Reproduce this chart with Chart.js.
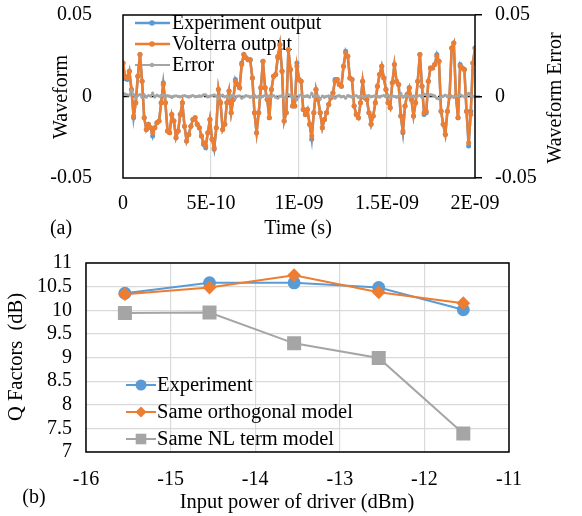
<!DOCTYPE html>
<html><head><meta charset="utf-8">
<script src="https://cdn.jsdelivr.net/npm/chart.js@4.4.1/dist/chart.umd.min.js"></script>
<style>
html,body{margin:0;padding:0;background:#fff;}
#wrap{position:relative;width:582px;height:516px;overflow:hidden;}
#c1{position:absolute;left:0;top:0;}
#c2{position:absolute;left:0;top:240px;}
</style></head><body>
<div id="wrap">
<canvas id="c1" width="582" height="240"></canvas>
<canvas id="c2" width="582" height="276"></canvas>
</div>
<script>
// ---------- Panel (a) data ----------
const WAVE_DURATION = 2e-9;
const waveTickLabels = ['0', '5E-10', '1E-09', '1.5E-09', '2E-09'];
const volterraOutput = [
 0.0206, 0.0124, 0.0114, 0.0155, 0.0043, -0.0120, -0.0039, 0.0124, 0.0257, 0.0094,
 -0.0131, -0.0202, -0.0171, -0.0192, -0.0222, -0.0192, -0.0161, -0.0151, -0.0039, 0.0073,
 -0.0039, -0.0212, -0.0222, -0.0110, -0.0151, -0.0253, -0.0212, -0.0110, -0.0039, -0.0182,
 -0.0273, -0.0233, -0.0182, -0.0141, -0.0131, -0.0171, -0.0192, -0.0243, -0.0284, -0.0304,
 -0.0222, -0.0141, -0.0263, -0.0314, -0.0192, 0.0043, -0.0039, -0.0202, -0.0171, -0.0039,
 0.0033, -0.0100, -0.0018, 0.0094, 0.0073, 0.0053, 0.0196, 0.0257, 0.0237, 0.0226,
 0.0226, 0.0114, -0.0100, -0.0222, -0.0100, 0.0053, 0.0216, 0.0053, -0.0018, -0.0131,
 0.0043, 0.0124, 0.0135, 0.0247, 0.0318, 0.0155, -0.0151, -0.0100, 0.0288,
 0.0165, -0.0059, -0.0059, 0.0186, 0.0104, 0.0094, -0.0080, -0.0110, -0.0080, -0.0171,
 -0.0243, -0.0100, 0.0043, -0.0018, -0.0100, -0.0192, -0.0141, -0.0100, -0.0049, -0.0008,
 0.0022, 0.0094, 0.0104, 0.0073, 0.0063, 0.0186, 0.0267, 0.0247, 0.0114, 0.0104,
 -0.0059, -0.0110, -0.0131, -0.0039, 0.0094, -0.0008, -0.0018, -0.0100, -0.0171, -0.0120,
 -0.0039, 0.0063, 0.0135, 0.0186, 0.0114, 0.0043, -0.0039, -0.0069, 0.0084, 0.0196,
 0.0094, 0.0073, -0.0120, -0.0212, -0.0059, 0.0012, 0.0053, -0.0018, -0.0120, -0.0039,
 0.0094, 0.0257, 0.0063, -0.0100, -0.0090, 0.0094, 0.0175, 0.0175, 0.0196, 0.0247,
 0.0216, -0.0090, -0.0171, -0.0233, -0.0090, 0.0002, 0.0298, 0.0328, 0.0002, -0.0131,
 0.0186, 0.0175, 0.0165, -0.0090, -0.0284, -0.0110, 0.0206, 0.0298
];
const experimentOutput = [
 0.0206, 0.0110, 0.0104, 0.0155, 0.0043, -0.0131, -0.0039, 0.0124, 0.0257, 0.0094,
 -0.0131, -0.0202, -0.0171, -0.0192, -0.0243, -0.0192, -0.0161, -0.0151, -0.0039, 0.0084,
 -0.0039, -0.0212, -0.0222, -0.0110, -0.0151, -0.0253, -0.0212, -0.0110, -0.0039, -0.0182,
 -0.0273, -0.0233, -0.0182, -0.0141, -0.0131, -0.0171, -0.0192, -0.0243, -0.0294, -0.0314,
 -0.0222, -0.0141, -0.0263, -0.0324, -0.0192, 0.0043, -0.0039, -0.0202, -0.0171, -0.0039,
 0.0033, -0.0100, -0.0018, 0.0104, 0.0073, 0.0053, 0.0206, 0.0257, 0.0237, 0.0226,
 0.0226, 0.0114, -0.0100, -0.0222, -0.0100, 0.0053, 0.0216, 0.0053, -0.0018, -0.0131,
 0.0043, 0.0124, 0.0135, 0.0237, 0.0318, 0.0155, -0.0151, -0.0100, 0.0288,
 0.0165, -0.0059, -0.0059, 0.0206, 0.0104, 0.0094, -0.0080, -0.0110, -0.0080, -0.0171,
 -0.0263, -0.0100, 0.0043, -0.0018, -0.0100, -0.0192, -0.0141, -0.0100, -0.0049, -0.0008,
 0.0022, 0.0104, 0.0104, 0.0073, 0.0063, 0.0186, 0.0277, 0.0247, 0.0114, 0.0104,
 -0.0059, -0.0110, -0.0131, -0.0039, 0.0094, -0.0008, -0.0018, -0.0100, -0.0171, -0.0120,
 -0.0039, 0.0063, 0.0135, 0.0186, 0.0114, 0.0043, -0.0039, -0.0069, 0.0084, 0.0196,
 0.0094, 0.0073, -0.0120, -0.0222, -0.0059, 0.0012, 0.0053, -0.0018, -0.0120, -0.0039,
 0.0094, 0.0257, 0.0063, -0.0110, -0.0100, 0.0094, 0.0175, 0.0175, 0.0196, 0.0257,
 0.0216, -0.0090, -0.0171, -0.0233, -0.0090, 0.0002, 0.0298, 0.0328, 0.0002, -0.0131,
 0.0196, 0.0175, 0.0165, -0.0090, -0.0304, -0.0090, 0.0206, 0.0298
];
const waveformError = [
 0.0020, 0.0014, 0.0010, 0.0008, 0.0040, 0.0011, -0.0008, 0.0006, 0.0012, -0.0005,
 0.0010, -0.0004, 0.0006, 0.0003, 0.0021, -0.0003, 0.0008, 0.0002, 0.0006, 0.0010,
 -0.0004, 0.0005, 0.0003, -0.0006, 0.0002, 0.0004, 0.0001, -0.0003, 0.0002, 0.0005,
 0.0001, -0.0004, 0.0003, 0.0006, -0.0002, 0.0001, 0.0004, 0.0002, 0.0010, 0.0010,
 -0.0003, 0.0002, 0.0005, 0.0010, 0.0003, -0.0012, 0.0004, 0.0009, -0.0002, 0.0003,
 -0.0010, 0.0005, 0.0007, -0.0010, 0.0002, 0.0004, -0.0010, -0.0003, 0.0006, 0.0002,
 -0.0005, 0.0003, 0.0008, -0.0004, 0.0002, -0.0006, 0.0001, 0.0009, -0.0003, 0.0004,
 -0.0002, 0.0006, -0.0004, -0.0010, 0.0002, 0.0005, -0.0008, 0.0003, 0.0012,
 0.0006, -0.0008, 0.0003, -0.0020, 0.0004, 0.0010, -0.0003, 0.0002, 0.0005, -0.0004,
 0.0020, -0.0002, 0.0006, 0.0002, -0.0015, 0.0003, -0.0005, 0.0001, 0.0004, -0.0002,
 0.0003, -0.0010, 0.0002, 0.0005, -0.0003, 0.0001, -0.0010, 0.0006, 0.0003, -0.0004,
 0.0002, 0.0005, -0.0006, 0.0003, 0.0001, -0.0002, 0.0004, 0.0006, -0.0003, 0.0002,
 0.0005, 0.0001, -0.0004, 0.0003, 0.0006, -0.0002, 0.0010, -0.0003, 0.0004, 0.0001,
 -0.0005, 0.0003, 0.0020, -0.0004, 0.0002, 0.0006, -0.0003, 0.0001, 0.0004, -0.0002,
 0.0003, 0.0006, -0.0004, 0.0015, 0.0010, 0.0003, 0.0012, 0.0008, 0.0004, -0.0010,
 -0.0015, -0.0003, 0.0002, 0.0008, -0.0002, 0.0004, 0.0001, -0.0005, 0.0003, 0.0005,
 0.0010, 0.0004, -0.0002, 0.0003, 0.0020, 0.0006, 0.0002, -0.0004
];

// ---------- Panel (b) data ----------
const inputPower = [-15.54, -14.54, -13.54, -12.54, -11.54];
const qExperiment = [10.36, 10.58, 10.58, 10.48, 10.01];
const qSameOrthogonal = [10.34, 10.48, 10.74, 10.38, 10.15];
const qSameNLTerm = [9.94, 9.95, 9.30, 8.99, 7.39];

// ---------- styling ----------
const FONT = '"Liberation Serif", "Times New Roman", serif';
const BLUE = '#5B9BD5', ORANGE = '#ED7D31', GRAY = '#A5A5A5', GRID = '#D9D9D9';
Chart.defaults.font.family = FONT;
Chart.defaults.font.size = 20;
Chart.defaults.color = '#000';

function drawMarker(ctx, style, x, y, r, color) {
  ctx.save();
  ctx.fillStyle = color;
  ctx.beginPath();
  if (style === 'rectRot') {
    ctx.moveTo(x, y - r); ctx.lineTo(x + r, y); ctx.lineTo(x, y + r); ctx.lineTo(x - r, y); ctx.closePath();
  } else if (style === 'rect') {
    const s = r * Math.SQRT1_2; ctx.rect(x - s, y - s, 2 * s, 2 * s);
  } else {
    ctx.arc(x, y, r, 0, Math.PI * 2);
  }
  ctx.fill();
  ctx.restore();
}

function drawLegend(chart, L) {
  const ctx = chart.ctx;
  ctx.save();
  ctx.font = L.size + 'px ' + FONT;
  ctx.textAlign = 'left'; ctx.textBaseline = 'middle'; ctx.fillStyle = '#000';
  chart.data.datasets.forEach((ds, i) => {
    const y = L.rows[i];
    ctx.save();
    ctx.strokeStyle = ds.borderColor; ctx.lineWidth = ds.borderWidth;
    ctx.beginPath(); ctx.moveTo(L.x0, y); ctx.lineTo(L.x1, y); ctx.stroke();
    ctx.restore();
    drawMarker(ctx, ds.pointStyle, L.mx, y, L.radius[i], ds.pointBackgroundColor);
    ctx.fillText(ds.label, L.tx, y + 1);
  });
  ctx.restore();
}

const extras = {
  id: 'extras',
  beforeDatasetsDraw(chart, args, opts) {
    const {ctx, chartArea: a} = chart;
    if (opts.zeroLine) {
      const y = chart.scales.y.getPixelForValue(0);
      ctx.save(); ctx.strokeStyle = '#000'; ctx.lineWidth = 1.5; ctx.setLineDash([6, 3]);
      ctx.beginPath(); ctx.moveTo(a.left, y); ctx.lineTo(a.right + 7, y); ctx.stroke(); ctx.restore();
    }
    if (opts.legend && opts.legend.under) drawLegend(chart, opts.legend);
  },
  afterDatasetsDraw(chart, args, opts) {
    if (opts.legend && !opts.legend.under) drawLegend(chart, opts.legend);
  },
  afterDraw(chart, args, opts) {
    const {ctx, chartArea: a} = chart;
    ctx.save();
    ctx.strokeStyle = '#000'; ctx.lineWidth = 1.5;
    ctx.strokeRect(a.left, a.top, a.right - a.left, a.bottom - a.top);
    ctx.fillStyle = '#000'; ctx.textAlign = 'center'; ctx.textBaseline = 'middle';
    (opts.titles || []).forEach(t => {
      ctx.save();
      ctx.font = (t.size || 20) + 'px ' + FONT;
      ctx.translate(t.x, t.y);
      if (t.rot) ctx.rotate(t.rot);
      ctx.fillText(t.text, 0, 0);
      ctx.restore();
    });
    ctx.restore();
  }
};

// fix scale box size and drop label overhang padding so the plot area is exact
const fitV = w => s => { s.width = w; s.paddingTop = 0; s.paddingBottom = 0; };
const fitH = h => s => { s.height = h; s.paddingLeft = 0; s.paddingRight = 0; };
const fmtWave = v => (Math.abs(v) < 1e-12 ? '0' : String(Math.round(v * 100) / 100));

// ---------- Panel (a) ----------
const sampleStep = WAVE_DURATION / (volterraOutput.length - 1);
const toXY = arr => arr.map((v, i) => ({x: i * sampleStep, y: v}));

new Chart(document.getElementById('c1'), {
  type: 'line',
  data: {
    datasets: [
      {label: 'Experiment output', data: toXY(experimentOutput), borderColor: BLUE, backgroundColor: BLUE,
       pointBackgroundColor: BLUE, pointBorderColor: BLUE, borderWidth: 2.5, pointRadius: 2.5, pointBorderWidth: 0, pointStyle: 'circle', order: 3, yAxisID: 'y'},
      {label: 'Volterra output', data: toXY(volterraOutput), borderColor: ORANGE, backgroundColor: ORANGE,
       pointBackgroundColor: ORANGE, pointBorderColor: ORANGE, borderWidth: 2.5, pointRadius: 2.5, pointBorderWidth: 0, pointStyle: 'circle', order: 2, yAxisID: 'y'},
      {label: 'Error', data: toXY(waveformError), borderColor: GRAY, backgroundColor: GRAY,
       pointBackgroundColor: GRAY, pointBorderColor: GRAY, borderWidth: 2, pointRadius: 1.6, pointBorderWidth: 0, pointStyle: 'circle', order: 1, yAxisID: 'y2'}
    ]
  },
  options: {
    responsive: false, animation: false,
    layout: {padding: {top: 15, left: 0, right: 0, bottom: 0}},
    plugins: {
      legend: {display: false}, tooltip: {enabled: false},
      extras: {
        zeroLine: true,
        legend: {under: true, x0: 135, x1: 170, mx: 152, tx: 172, rows: [23, 44, 65], radius: [2.8, 2.8, 2.2], size: 20},
        titles: [
          {text: 'Waveform', x: 62, y: 97, rot: -Math.PI / 2},
          {text: 'Waveform Error', x: 556, y: 98, rot: -Math.PI / 2},
          {text: 'Time (s)', x: 298, y: 229},
          {text: '(a)', x: 61, y: 229}
        ]
      }
    },
    scales: {
      x: {
        type: 'linear', min: 0, max: WAVE_DURATION,
        afterFit: fitH(62),
        border: {display: false},
        grid: {drawTicks: false, lineWidth: 1.2, color: c => (c.tick && c.index > 0 && c.index < 4) ? GRID : 'rgba(0,0,0,0)'},
        ticks: {stepSize: 5e-10, padding: 14, maxRotation: 0, autoSkip: false,
                callback: (v, i) => waveTickLabels[i]}
      },
      y: {
        type: 'linear', position: 'left', min: -0.05, max: 0.05,
        afterFit: fitV(123),
        border: {display: false},
        grid: {display: false},
        ticks: {stepSize: 0.05, padding: 23, callback: fmtWave}
      },
      y2: {
        type: 'linear', position: 'right', min: -0.05, max: 0.05,
        afterFit: fitV(107),
        border: {display: false},
        grid: {drawOnChartArea: false, drawTicks: true, tickLength: 7, color: '#000', lineWidth: 1.5},
        ticks: {stepSize: 0.05, padding: 13, callback: fmtWave}
      }
    }
  },
  plugins: [extras]
});

// ---------- Panel (b) ----------
const toPts = arr => arr.map((v, i) => ({x: inputPower[i], y: v}));
new Chart(document.getElementById('c2'), {
  type: 'line',
  data: {
    datasets: [
      {label: 'Experiment', data: toPts(qExperiment), borderColor: BLUE, backgroundColor: BLUE,
       pointBackgroundColor: BLUE, pointBorderColor: BLUE, borderWidth: 2, pointRadius: 5.5, pointStyle: 'circle', order: 2},
      {label: 'Same orthogonal model', data: toPts(qSameOrthogonal), borderColor: ORANGE, backgroundColor: ORANGE,
       pointBackgroundColor: ORANGE, pointBorderColor: ORANGE, borderWidth: 2, pointRadius: 5.5, pointStyle: 'rectRot', order: 1},
      {label: 'Same NL term model', data: toPts(qSameNLTerm), borderColor: GRAY, backgroundColor: GRAY,
       pointBackgroundColor: GRAY, pointBorderColor: GRAY, borderWidth: 2, pointRadius: 8.5, pointStyle: 'rect', order: 3}
    ]
  },
  options: {
    responsive: false, animation: false,
    layout: {padding: {top: 23, left: 0, right: 73, bottom: 0}},
    plugins: {
      legend: {display: false}, tooltip: {enabled: false},
      extras: {
        legend: {under: false, x0: 126, x1: 156, mx: 141, tx: 157, rows: [145, 172, 199], radius: [5.5, 5.5, 7.5], size: 20.5},
        titles: [
          {text: 'Q Factors  (dB)', x: 17, y: 117, rot: -Math.PI / 2, size: 20.5},
          {text: 'Input power of driver (dBm)', x: 297, y: 263, size: 20.5},
          {text: '(b)', x: 34, y: 258}
        ]
      }
    },
    scales: {
      x: {
        type: 'linear', min: -16, max: -11,
        afterFit: fitH(64),
        border: {display: false},
        grid: {drawTicks: false, color: GRID, lineWidth: 1.2},
        ticks: {stepSize: 1, padding: 16, maxRotation: 0, autoSkip: false}
      },
      y: {
        type: 'linear', min: 7, max: 11,
        afterFit: fitV(86),
        border: {display: false},
        grid: {drawTicks: false, color: GRID, lineWidth: 1.2},
        ticks: {stepSize: 0.5, padding: 14, autoSkip: false, callback: v => String(Math.round(v * 10) / 10)}
      }
    }
  },
  plugins: [extras]
});
</script>
</body></html>
